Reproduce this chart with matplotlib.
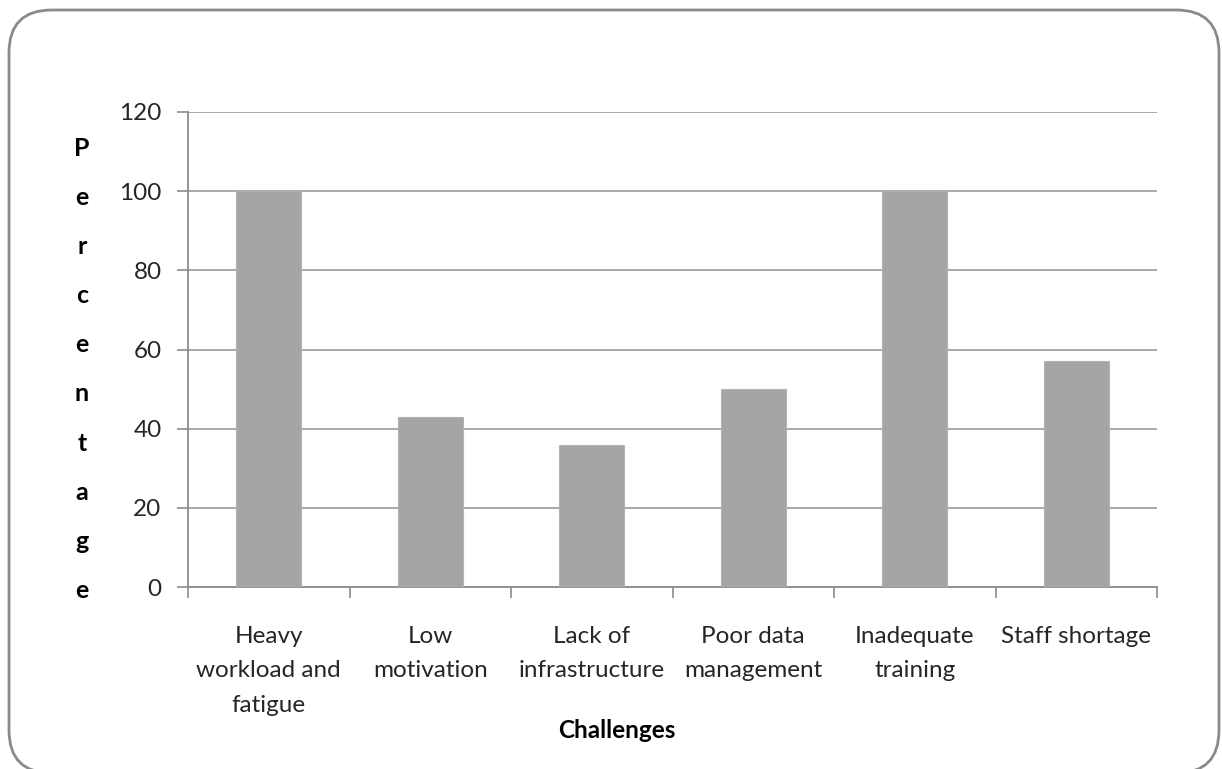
import matplotlib.pyplot as plt
import numpy as np
from matplotlib.patches import FancyBboxPatch

# data
categories = ["Heavy\nworkload and\nfatigue", "Low\nmotivation", "Lack of\ninfrastructure",
              "Poor data\nmanagement", "Inadequate\ntraining", "Staff shortage"]
values = [100, 43, 36, 50, 100, 57]
y_ticks = [0, 20, 40, 60, 80, 100, 120]
y_label = "Percentage"
x_label = "Challenges"

plt.rcParams["font.family"] = ["Lato", "DejaVu Sans"]

W, H = 1222, 769
fig = plt.figure(figsize=(W / 100, H / 100), dpi=100)

# rounded outer frame (bottom edge runs off the image)
frame = FancyBboxPatch((9 / W, -4 / H), 1210 / W, 763 / H,
                       boxstyle="round,pad=0,rounding_size=0.035",
                       transform=fig.transFigure, facecolor="white",
                       edgecolor="#8a8a8a", linewidth=2, mutation_aspect=W / H,
                       zorder=-10)
fig.patches.append(frame)

ax = fig.add_axes([188 / W, 1 - 587 / H, (1157 - 188) / W, (587 - 112) / H])
ax.set_facecolor("none")

x = np.arange(len(values))
ax.bar(x, values, width=0.4, color="#a5a5a5", edgecolor="#b4b4b4", linewidth=0.8, zorder=3)

ax.set_xlim(-0.5, len(values) - 0.5)
ax.set_ylim(0, 120)
ax.set_yticks(y_ticks)
ax.grid(axis="y", color="#a3a3a3", linewidth=1.3, zorder=0)

ax.set_xticks(x)
ax.set_xticklabels(categories, fontsize=17.5, color="#262626", linespacing=1.8)
ax.set_xticks(np.arange(len(values) + 1) - 0.5, minor=True)
ax.tick_params(axis="x", which="major", length=0, pad=28)
ax.tick_params(axis="x", which="minor", length=8, width=1.2, color="#8c8c8c")
ax.tick_params(axis="y", length=8, width=1.2, color="#8c8c8c", labelsize=17.5,
               labelcolor="#262626", pad=11)

for side in ["top", "right"]:
    ax.spines[side].set_visible(False)
for side in ["left", "bottom"]:
    ax.spines[side].set_color("#8c8c8c")
    ax.spines[side].set_linewidth(1.3)

# stacked vertical axis title
for i, ch in enumerate(y_label):
    fig.text(82 / W, 1 - (148 + i * 49.2) / H, ch, fontsize=18, fontweight="bold",
             ha="center", va="center", color="black")

fig.text(617 / W, 1 - 730 / H, x_label, fontsize=17.5, fontweight="bold",
         ha="center", va="center", color="black")

fig.savefig("out.png", dpi=100)
